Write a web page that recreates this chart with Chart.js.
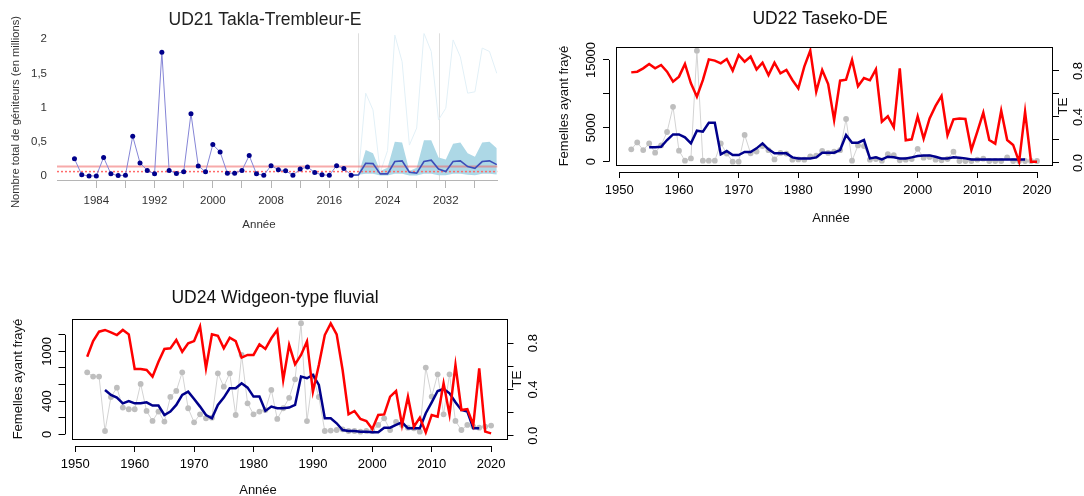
<!DOCTYPE html>
<html>
<head>
<meta charset="utf-8">
<script src="https://cdn.jsdelivr.net/npm/chart.js@4.4.0/dist/chart.umd.min.js"></script>
<style>
body{margin:0;background:#fff;width:1084px;height:496px;overflow:hidden;position:relative}
canvas{position:absolute}
</style>
</head>
<body>
<canvas id="ud21" width="542" height="240" style="left:0;top:0"></canvas>
<canvas id="ud22" width="542" height="248" style="left:542px;top:0"></canvas>
<canvas id="ud24" width="542" height="256" style="left:0;top:240px"></canvas>
<script>
'use strict';
// ---- UD21 Takla-Trembleur-E (millions of spawners) ----
var ud21Years = [1981,1982,1983,1984,1985,1986,1987,1988,1989,1990,1991,1992,1993,1994,1995,1996,1997,1998,1999,2000,
  2001,2002,2003,2004,2005,2006,2007,2008,2009,2010,2011,2012,2013,2014,2015,2016,2017,2018,2019];
var ud21Spawners = [0.25,0.015,0.0,0.0,0.27,0.03,0.005,0.01,0.58,0.19,0.08,0.03,1.81,0.08,0.035,0.06,0.91,0.146,0.06,0.458,
  0.35,0.04,0.04,0.08,0.297,0.03,0.01,0.15,0.09,0.075,0.01,0.10,0.13,0.05,0.015,0.01,0.15,0.11,0.01];
var ud21ProjYears = [2019,2020,2021,2022,2023,2024,2025,2026,2027,2028,2029,2030,2031,2032,2033,2034,2035,2036,2037,2038,2039];
var ud21ProjMedian = [0.01,0.015,0.185,0.18,0.03,0.03,0.21,0.22,0.054,0.04,0.21,0.23,0.10,0.063,0.21,0.22,0.136,0.11,0.21,0.22,0.165];
var ud21ProjHigh = [0.01,0.015,0.38,0.33,0.07,0.12,0.50,0.49,0.07,0.12,0.52,0.52,0.27,0.24,0.47,0.49,0.33,0.28,0.49,0.50,0.405];
var ud21ProjLow = [0.01,0.015,0.03,0.03,0.005,0.005,0.03,0.03,0.005,0.005,0.03,0.03,0.01,0.01,0.03,0.03,0.015,0.01,0.03,0.03,0.02];
var ud21ProjMax = [0.01,0.015,1.21,0.965,0.05,0.37,2.06,1.67,0.45,0.70,2.086,1.82,0.82,0.99,1.99,1.74,1.21,1.23,1.87,1.82,1.50];
var ud21RefUpper = 0.136;
var ud21RefLower = 0.063;
var ud21MarkYears = [2020, 2031];
var ud21XTicks = [1984,1988,1992,1996,2000,2004,2008,2012,2016,2020,2024,2028,2032,2036];
var ud21XLabels = ['1984','','1992','','2000','','2008','','2016','','2024','','2032',''];
var ud21YTicks = [0, 0.5, 1, 1.5, 2];
var ud21YLabels = ['0','0,5','1','1,5','2'];

// ---- UD22 / UD24: spawning females, running mean, TE ----
var yearsObs = [1952,1953,1954,1955,1956,1957,1958,1959,1960,1961,1962,1963,1964,1965,1966,1967,1968,1969,1970,1971,
  1972,1973,1974,1975,1976,1977,1978,1979,1980,1981,1982,1983,1984,1985,1986,1987,1988,1989,1990,1991,1992,1993,1994,
  1995,1996,1997,1998,1999,2000,2001,2002,2003,2004,2005,2006,2007,2008,2009,2010,2011,2012,2013,2014,2015,2016,2017,
  2018,2019,2020];
var yearsAvg = [1955,1956,1957,1958,1959,1960,1961,1962,1963,1964,1965,1966,1967,1968,1969,1970,1971,1972,1973,1974,
  1975,1976,1977,1978,1979,1980,1981,1982,1983,1984,1985,1986,1987,1988,1989,1990,1991,1992,1993,1994,1995,1996,1997,
  1998,1999,2000,2001,2002,2003,2004,2005,2006,2007,2008,2009,2010,2011,2012,2013,2014,2015,2016,2017,2018];

var ud22Females = [1820,2850,1720,2700,1330,2400,4380,8100,
  1620,150,490,16380,150,150,150,2700,1200,0,
  0,3950,1230,1500,2300,1700,340,1300,1200,300,
  340,300,800,900,1600,1300,1500,1700,6300,150,
  2400,2300,300,400,150,1100,980,200,300,400,
  1900,600,700,300,200,400,1470,100,100,100,
  300,450,100,100,100,650,100,100,100,100,
  100];
var ud22Mean = [2115,2115,2200,3200,4030,
  4030,3590,2700,4570,4430,5750,5750,1080,1570,980,
  980,1430,1430,1970,2700,1820,1230,1230,1230,640,
  490,490,490,640,1330,1330,1330,1720,3930,2800,
  2800,3200,490,640,340,740,640,490,490,640,
  840,930,930,740,490,490,640,590,490,340,
  340,340,340,340,340,340,340,340,340];
var ud22TE = [0.788,0.794,0.823,0.861,0.823,0.852,0.794,0.707,
  0.751,0.861,0.693,0.577,0.72,0.901,0.89,0.867,0.904,0.803,
  0.939,0.881,0.925,0.814,0.872,0.765,0.872,0.78,0.809,0.722,
  0.649,0.838,0.977,0.62,0.809,0.687,0.374,0.716,0.725,0.896,
  0.667,0.739,0.719,0.814,0.359,0.406,0.31,0.823,0.197,0.206,
  0.406,0.212,0.388,0.496,0.583,0.241,0.38,0.386,0.383,0.113,
  0.272,0.438,0.2,0.168,0.455,0.2,0.157,0.01,0.446,0.01,
  0.01];

var ud24Females = [748,696,696,40,450,563,322,302,
  302,608,282,161,274,153,451,523,748,314,
  145,241,193,200,736,575,736,233,958,374,
  241,274,294,535,185,314,440,663,1340,160,
  700,450,40,45,52,60,40,40,32,40,
  40,113,193,52,150,113,80,72,32,805,
  455,724,241,724,161,52,113,93,80,93,
  105];
var ud24Mean = [535,475,443,374,402,
  374,374,386,346,346,233,274,354,475,515,
  427,334,233,193,354,443,555,555,616,563,
  455,455,282,334,314,314,322,354,696,676,
  716,596,193,193,133,52,40,40,32,32,
  24,24,80,80,113,145,72,72,72,254,
  386,523,547,495,386,294,274,72,72];
var ud24TE = [0.683,0.818,0.899,0.914,0.893,0.870,0.914,0.876,
  0.577,0.577,0.568,0.511,0.640,0.75,0.755,0.827,0.726,0.798,
  0.818,0.943,0.583,0.876,0.864,0.755,0.847,0.818,0.675,0.698,
  0.698,0.79,0.75,0.842,0.914,0.482,0.784,0.617,0.698,0.815,
  0.381,0.611,0.870,0.971,0.876,0.568,0.185,0.214,0.145,0.128,
  0.059,0.18,0.185,0.338,0.387,0.093,0.338,0.079,0.157,0.03,
  0.18,0.165,0.453,0.185,0.611,0.223,0.231,0.093,0.583,0.036,
  0.021];

var decadeTicks = [1950,1960,1970,1980,1990,2000,2010,2020];
var decadeLabels = ['1950','1960','1970','1980','1990','2000','2010','2020'];
var teTicks = [0, 0.2, 0.4, 0.6, 0.8];
var teLabels = ['0.0','','0.4','','0.8'];
var ud22LeftTicks = [0, 5000, 10000, 15000];
var ud22LeftLabels = ['0','5000','','15000'];
var ud24LeftTicks = [0, 200, 400, 600, 800, 1000, 1200];
var ud24LeftLabels = ['0','','400','','','1000',''];

var FONT = '"Liberation Sans", Arial, sans-serif';
Chart.defaults.font.family = FONT;
Chart.defaults.color = '#000';

function pairs(xs, ys) {
  return xs.map(function (x, i) { return { x: x, y: ys[i] }; });
}
function fixTicks(list) {
  return function (scale) {
    scale.ticks = list.map(function (v) { return { value: v }; });
  };
}
function pickLabel(list) {
  return function (v, i) { return list[i]; };
}

// R-like decorations: box, axis lines, rotated labels, titles
var rPanel = {
  id: 'rPanel',
  beforeDatasetsDraw: function (chart, args, o) {
    if (!o.markYears) return;
    var ctx = chart.ctx, sx = chart.scales.x, a = chart.chartArea;
    ctx.save();
    ctx.strokeStyle = '#dedede';
    ctx.lineWidth = 1;
    o.markYears.forEach(function (yr) {
      var px = Math.round(sx.getPixelForValue(yr)) + 0.5;
      ctx.beginPath(); ctx.moveTo(px, a.top); ctx.lineTo(px, a.bottom); ctx.stroke();
    });
    ctx.restore();
  },
  afterDraw: function (chart, args, o) {
    var ctx = chart.ctx, sx = chart.scales.x, sy = chart.scales.y, a = chart.chartArea;
    ctx.save();
    ctx.strokeStyle = '#000';
    ctx.lineWidth = 1;
    if (o.box) {
      var l = Math.round(sx.getPixelForValue(o.box[0])) + 0.5;
      var r = Math.round(sx.getPixelForValue(o.box[1])) - 0.5;
      var b = Math.round(sy.getPixelForValue(o.box[2])) + 0.5;
      var t = Math.round(sy.getPixelForValue(o.box[3])) + 0.5;
      ctx.strokeRect(l, t, r - l, b - t);
      var xt = sx.ticks, yt = sy.ticks;
      var ax = Math.round(a.left) + 0.5, ay = Math.round(a.bottom) + 0.5;
      ctx.beginPath();
      ctx.moveTo(ax, sy.getPixelForValue(yt[0].value));
      ctx.lineTo(ax, sy.getPixelForValue(yt[yt.length - 1].value));
      ctx.moveTo(sx.getPixelForValue(xt[0].value), ay);
      ctx.lineTo(sx.getPixelForValue(xt[xt.length - 1].value), ay);
      ctx.stroke();
    }
    ctx.textAlign = 'center';
    ctx.textBaseline = 'middle';
    (o.sideLabels || []).forEach(function (s) {
      var sc = chart.scales[s.scale];
      ctx.font = s.font;
      ctx.fillStyle = s.color || '#000';
      s.values.forEach(function (v, i) {
        if (!s.labels[i]) return;
        ctx.save();
        ctx.translate(s.x, sc.getPixelForValue(v));
        ctx.rotate(-Math.PI / 2);
        ctx.fillText(s.labels[i], 0, 0);
        ctx.restore();
      });
    });
    (o.texts || []).forEach(function (tx) {
      ctx.save();
      ctx.font = tx.font;
      ctx.fillStyle = tx.color || '#000';
      ctx.translate(tx.x, tx.y);
      if (tx.rot) ctx.rotate(tx.rot);
      ctx.fillText(tx.text, 0, 0);
      ctx.restore();
    });
    ctx.restore();
  }
};

var common = {
  responsive: false,
  animation: false,
  devicePixelRatio: 1,
  events: [],
  elements: { line: { tension: 0 } }
};

// ---------- UD21 ----------
var ud21XMin = 1978.6, ud21XMax = 2039.1;
new Chart(document.getElementById('ud21'), {
  type: 'line',
  data: {
    datasets: [
      { data: pairs(ud21ProjYears, ud21ProjHigh), borderWidth: 0, pointRadius: 0, backgroundColor: '#add8e6', fill: '+1', order: 10 },
      { data: pairs(ud21ProjYears, ud21ProjLow), borderWidth: 0, pointRadius: 0, fill: false, order: 10 },
      { data: pairs(ud21ProjYears, ud21ProjMax), borderColor: '#e2f0f7', borderWidth: 1, pointRadius: 0, fill: false, order: 9 },
      { data: [{ x: ud21XMin, y: ud21RefUpper }, { x: ud21XMax, y: ud21RefUpper }], borderColor: 'rgba(240,100,100,0.55)', borderWidth: 2, pointRadius: 0, fill: false, order: 5 },
      { data: [{ x: ud21XMin, y: ud21RefLower }, { x: ud21XMax, y: ud21RefLower }], borderColor: '#ff6b6b', borderWidth: 1.5, borderDash: [2, 2], pointRadius: 0, fill: false, order: 5 },
      { data: pairs(ud21ProjYears, ud21ProjMedian), borderColor: '#3c4db8', borderWidth: 1.6, pointRadius: 0, fill: false, order: 2 },
      { data: pairs(ud21Years, ud21Spawners), borderColor: '#8585d6', borderWidth: 1, pointRadius: 2.5, pointBackgroundColor: '#00008b', pointBorderWidth: 0, fill: false, order: 1 }
    ]
  },
  options: Object.assign({}, common, {
    layout: { padding: { top: 33.3, right: 44.5, left: 0, bottom: 0 } },
    scales: {
      x: {
        type: 'linear', min: ud21XMin, max: ud21XMax,
        afterBuildTicks: fixTicks(ud21XTicks),
        afterFit: function (s) { s.height = 60; },
        grid: { display: true, drawOnChartArea: false, drawTicks: true, tickLength: 8, tickColor: '#b5b5b5', lineWidth: 1 },
        border: { display: true, color: '#b5b5b5', width: 1 },
        ticks: { font: { size: 11.5 }, color: '#333', padding: 6, maxRotation: 0, autoSkip: false, callback: pickLabel(ud21XLabels) }
      },
      y: {
        min: -0.06, max: 2.086,
        afterBuildTicks: fixTicks(ud21YTicks),
        afterFit: function (s) { s.width = 57; },
        grid: { display: false, drawTicks: false },
        border: { display: false },
        ticks: { font: { size: 11.5 }, color: '#333', padding: 10, callback: pickLabel(ud21YLabels) }
      }
    },
    plugins: {
      legend: { display: false },
      tooltip: { enabled: false },
      rPanel: {
        markYears: ud21MarkYears,
        texts: [
          { text: 'UD21 Takla-Trembleur-E', x: 265, y: 20, font: '17.5px ' + FONT, color: '#222' },
          { text: 'Année', x: 259, y: 225, font: '11.5px ' + FONT, color: '#333' },
          { text: 'Nombre total de géniteurs (en millions)', x: 16, y: 112, rot: -Math.PI / 2, font: '11.2px ' + FONT, color: '#333' }
        ]
      }
    }
  }),
  plugins: [rPanel]
});

// ---------- UD22 / UD24 builder ----------
function buildRPanel(id, cfg) {
  return new Chart(document.getElementById(id), {
    type: 'line',
    data: {
      datasets: [
        { data: pairs(yearsObs, cfg.te), yAxisID: 'y2', borderColor: '#ff0000', borderWidth: 2.5, pointRadius: 0, fill: false, order: 1 },
        { data: pairs(yearsAvg, cfg.mean), yAxisID: 'y', borderColor: '#00008b', borderWidth: 2.5, pointRadius: 0, fill: false, order: 2 },
        { data: pairs(yearsObs, cfg.females), yAxisID: 'y', borderColor: '#d3d3d3', borderWidth: 1, pointRadius: 2.9,
          pointBackgroundColor: '#bebebe', pointBorderWidth: 0, fill: false, order: 3 }
      ]
    },
    options: Object.assign({}, common, {
      layout: { padding: { top: cfg.top, right: 0, left: 0, bottom: 0 } },
      scales: {
        x: {
          type: 'linear', min: cfg.xMin, max: cfg.xMax,
          afterBuildTicks: fixTicks(decadeTicks),
          afterFit: function (s) { s.height = cfg.xHeight; },
          grid: { display: true, drawOnChartArea: false, tickLength: 6, tickColor: '#000', lineWidth: 1 },
          border: { display: false },
          ticks: { font: { size: 13 }, color: '#000', padding: 5, maxRotation: 0, autoSkip: false, callback: pickLabel(decadeLabels) }
        },
        y: {
          position: 'left', min: cfg.yMin, max: cfg.yMax,
          afterBuildTicks: fixTicks(cfg.leftTicks),
          afterFit: function (s) { s.width = cfg.leftWidth; },
          grid: { display: true, drawOnChartArea: false, tickLength: 6, tickColor: '#000', lineWidth: 1 },
          border: { display: false },
          ticks: { display: false }
        },
        y2: {
          position: 'right', min: cfg.teMin, max: cfg.teMax,
          afterBuildTicks: fixTicks(teTicks),
          afterFit: function (s) { s.width = cfg.rightWidth; },
          grid: { display: true, drawOnChartArea: false, tickLength: 6, tickColor: '#000', lineWidth: 1 },
          border: { display: false },
          ticks: { display: false }
        }
      },
      plugins: {
        legend: { display: false },
        tooltip: { enabled: false },
        rPanel: {
          box: cfg.box,
          sideLabels: [
            { scale: 'y', values: cfg.leftTicks, labels: cfg.leftLabels, x: cfg.leftLabelX, font: '13px ' + FONT },
            { scale: 'y2', values: teTicks, labels: teLabels, x: cfg.rightLabelX, font: '13px ' + FONT }
          ],
          texts: [
            { text: cfg.title, x: cfg.titleX, y: cfg.titleY, font: '17.5px ' + FONT, color: '#111' },
            { text: 'Année', x: cfg.xTitleX, y: cfg.xTitleY, font: '13px ' + FONT, color: '#111' },
            { text: 'Femelles ayant frayé', x: cfg.yTitleX, y: cfg.yTitleY, rot: -Math.PI / 2, font: '13px ' + FONT, color: '#111' },
            { text: 'TE', x: cfg.teTitleX, y: cfg.yTitleY, rot: -Math.PI / 2, font: '13.5px ' + FONT, color: '#111' }
          ]
        }
      }
    }),
    plugins: [rPanel]
  });
}

buildRPanel('ud22', {
  title: 'UD22 Taseko-DE', females: ud22Females, mean: ud22Mean, te: ud22TE,
  top: 47, xHeight: 76, leftWidth: 67, rightWidth: 31,
  xMin: 1948.27, xMax: 2022.68, yMin: -1519, yMax: 16917, teMin: -0.0783, teMax: 1.0087,
  box: [1949.44, 2022.68, -487, 16917],
  leftTicks: ud22LeftTicks, leftLabels: ud22LeftLabels,
  leftLabelX: 49.5, rightLabelX: 536,
  titleX: 278, titleY: 19, xTitleX: 289, xTitleY: 218, yTitleX: 22, yTitleY: 106, teTitleX: 521
});

buildRPanel('ud24', {
  title: 'UD24 Widgeon-type fluvial', females: ud24Females, mean: ud24Mean, te: ud24TE,
  top: 79, xHeight: 50, leftWidth: 64.5, rightWidth: 34.5,
  xMin: 1948.18, xMax: 2022.76, yMin: -141.1, yMax: 1390.8, teMin: -0.0881, teMax: 1.0086,
  box: [1949.36, 2022.76, -56.7, 1390.8],
  leftTicks: ud24LeftTicks, leftLabels: ud24LeftLabels,
  leftLabelX: 47.5, rightLabelX: 533,
  titleX: 275, titleY: 58, xTitleX: 258, xTitleY: 250, yTitleX: 18.5, yTitleY: 139, teTitleX: 517.5
});
</script>
</body>
</html>
